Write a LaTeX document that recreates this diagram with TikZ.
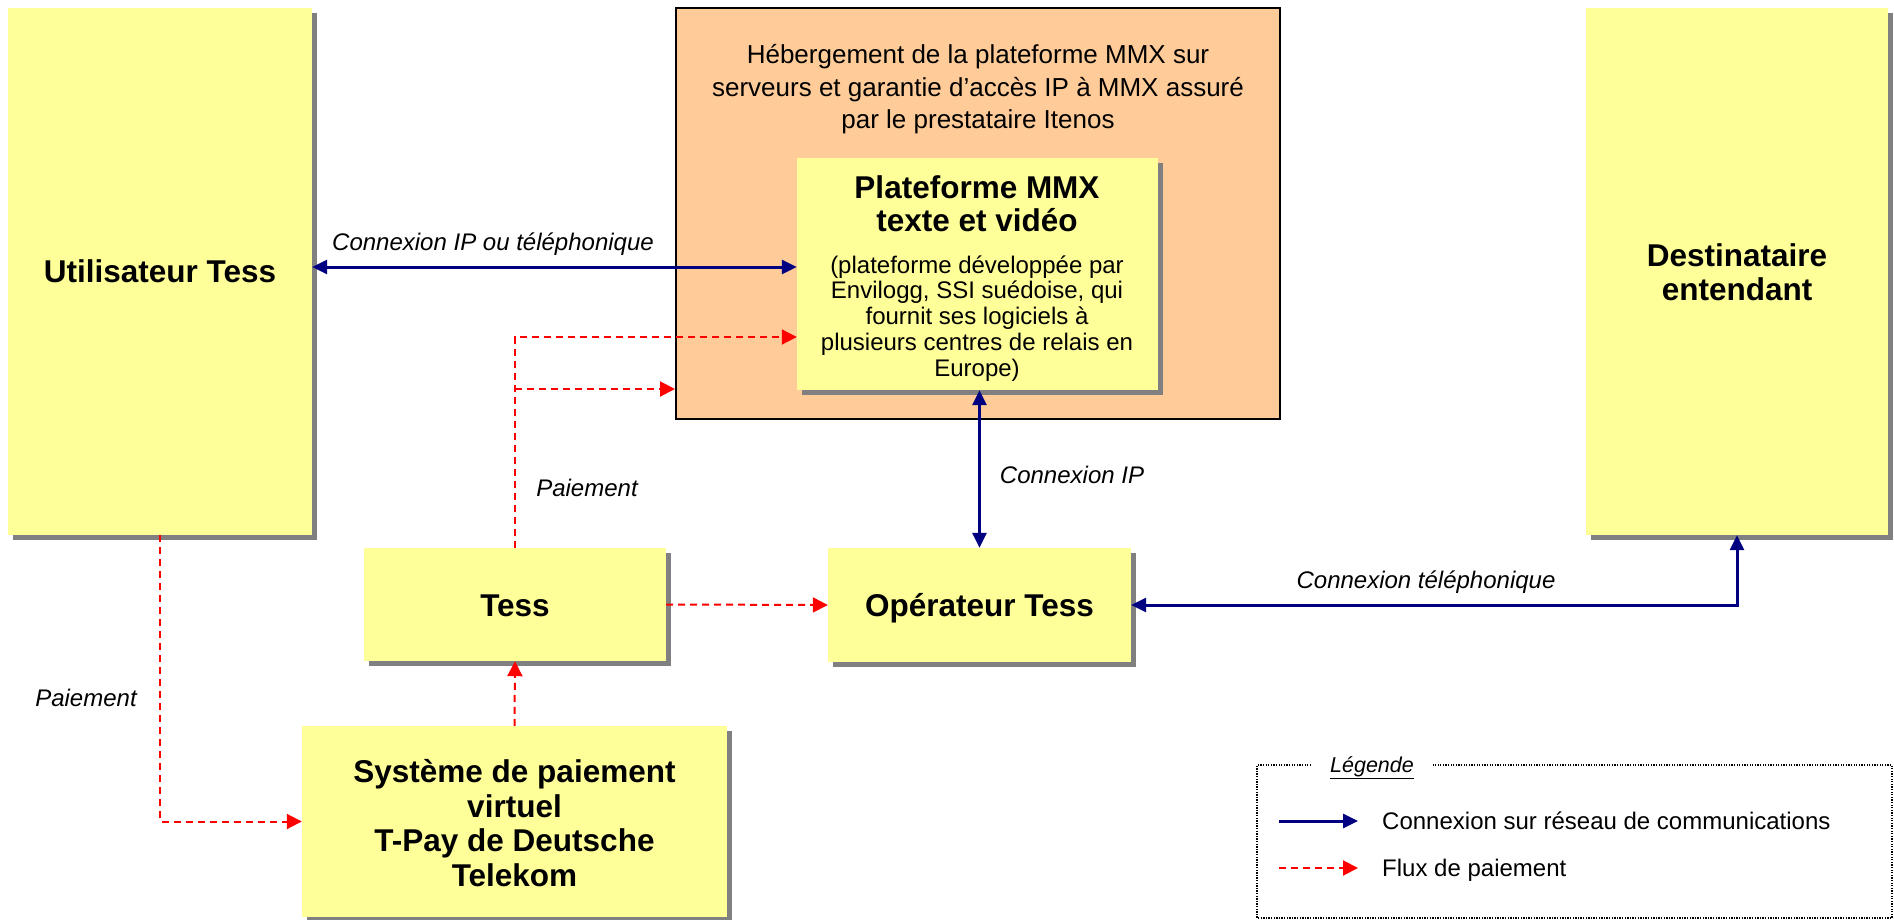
\documentclass[tikz,border=0pt]{standalone}
\usepackage{fontspec}
\setmainfont{Liberation Sans}
\usetikzlibrary{arrows.meta,shadows,calc}
\definecolor{boxyellow}{HTML}{FFFF99}
\definecolor{hostorange}{HTML}{FFCC99}
\definecolor{navyblue}{HTML}{000080}
\definecolor{shadowgray}{HTML}{808080}
\definecolor{payred}{HTML}{FF0000}
\tikzset{
  ybox/.style={fill=boxyellow, draw=none, inner sep=0pt,
    drop shadow={shadow xshift=5pt, shadow yshift=-5pt, opacity=1, fill=shadowgray}},
  hostbox/.style={fill=hostorange, draw=black, line width=2pt, inner sep=0pt},
  titletext/.style={font=\fontsize{31.5}{34.5}\selectfont\bfseries, align=center, inner sep=0pt},
  hosttext/.style={font=\fontsize{26}{32.5}\selectfont, align=center, inner sep=0pt},
  subtext/.style={font=\fontsize{24}{25.75}\selectfont, align=center, inner sep=0pt},
  lbl/.style={font=\fontsize{24}{26}\selectfont\itshape, inner sep=0pt},
  legtext/.style={font=\fontsize{24}{26}\selectfont, inner sep=0pt},
  conn/.style={draw=navyblue, line width=3pt},
  bothtips/.style={{Triangle[length=15pt,width=14pt]}-{Triangle[length=15pt,width=14pt]}},
  onetip/.style={-{Triangle[length=15pt,width=14pt]}},
  pay/.style={draw=payred, line width=2pt, dash pattern=on 7pt off 5pt,
    -{Triangle[length=15pt,width=15pt]}},
  legframe/.style={draw=black, line width=1.3pt, dash pattern=on 1.3pt off 1.3pt}
}
\begin{document}
\begin{tikzpicture}[x=1pt,y=-1pt]
\useasboundingbox[fill=white] (0,0) rectangle (1894,920);

% boxes
\node[hostbox, minimum width=604pt, minimum height=411pt] (host) at (978,213.5) {};
\node[ybox, minimum width=304pt, minimum height=527pt] (user) at (160,271.5) {};
\node[ybox, minimum width=361pt, minimum height=232pt] (plat) at (977.5,274) {};
\node[ybox, minimum width=302pt, minimum height=527pt] (dest) at (1737,271.5) {};
\node[ybox, minimum width=302pt, minimum height=113pt] (tess) at (515,604.5) {};
\node[ybox, minimum width=303pt, minimum height=114pt] (oper) at (979.5,605) {};
\node[ybox, minimum width=425pt, minimum height=191pt] (sys) at (514.5,821.5) {};

% texts (base anchor = baseline of last line)
\node[hosttext, anchor=base] (hosttxt) at (978,129) {Hébergement de la plateforme MMX sur\\serveurs et garantie d’accès IP à MMX assuré\\par le prestataire Itenos};
\node[titletext, font=\fontsize{31.5}{33}\selectfont\bfseries, anchor=base] (plattitle) at (977,231) {Plateforme MMX\\texte et vidéo};
\node[subtext, anchor=base] (platsub) at (977,376) {(plateforme développée par\\Envilogg, SSI suédoise, qui\\fournit ses logiciels à\\plusieurs centres de relais en\\Europe)};
\node[titletext, anchor=base] (usertxt) at (160,282) {Utilisateur Tess};
\node[titletext, anchor=base] (desttxt) at (1737,300.5) {Destinataire\\entendant};
\node[titletext, anchor=base] (tesstxt) at (515,616) {Tess};
\node[titletext, anchor=base] (opertxt) at (979.5,616) {Opérateur Tess};
\node[titletext, anchor=base] (systxt) at (514.5,886) {Système de paiement\\virtuel\\T-Pay de Deutsche\\Telekom};

% blue connections
\draw[conn, bothtips] ([yshift=7pt]plat.west -| user.east) -- ([yshift=7pt]plat.west);
\draw[conn, bothtips] (plat.south -| oper.north) -- (oper.north);
\draw[conn, bothtips] (oper.east) -| (dest.south);

% red payment flows
\coordinate (p1) at ([yshift=-63pt]plat.west);
\coordinate (b1) at ([yshift=-175.5pt]host.west);
\draw[pay] (tess.north) -- (tess.north |- p1) -- (p1);
\draw[pay] (tess.north |- b1) -- (b1);
\draw[pay] (tess.east) -- (oper.west);
\draw[pay] (user.south) |- (sys.west);
\draw[pay] (sys.north) -- (tess.south);

% labels
\node[lbl, anchor=base] (l1) at (493,250) {Connexion IP ou téléphonique};
\node[lbl, anchor=base] (l2) at (587,496) {Paiement};
\node[lbl, anchor=base] (l3) at (1072,483) {Connexion IP};
\node[lbl, anchor=base] (l4) at (1426,588) {Connexion téléphonique};
\node[lbl, anchor=base] (l5) at (86,706) {Paiement};

% legend
\draw[legframe] (1311,765) -- (1257,765) -- (1257,918) -- (1892,918) -- (1892,765) -- (1433,765);
\node[font=\fontsize{21.5}{24}\selectfont\itshape, inner sep=0pt, anchor=base] (legtitle) at (1372,772) {\underline{Légende}};
\coordinate (lb1) at (1279,821);
\coordinate (lb2) at (1358,821);
\coordinate (lr1) at (1279,868);
\coordinate (lr2) at (1358,868);
\draw[conn, onetip] (lb1) -- (lb2);
\draw[pay] (lr1) -- (lr2);
\node[legtext, anchor=base west] (leg1) at (1382,829) {Connexion sur réseau de communications};
\node[legtext, anchor=base west] (leg2) at (1382,876) {Flux de paiement};
\end{tikzpicture}
\end{document}
